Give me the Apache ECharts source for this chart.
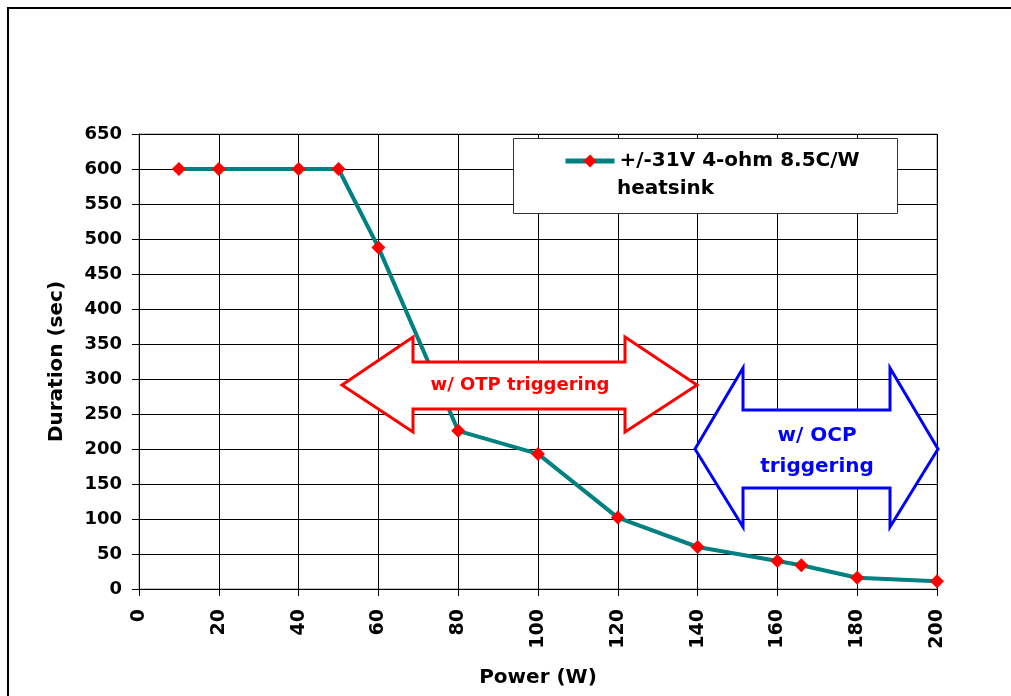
<!DOCTYPE html>
<html><head><meta charset="utf-8">
<script src="https://cdn.jsdelivr.net/npm/echarts@6/dist/echarts.min.js"></script>
<style>html,body{margin:0;padding:0;background:#fff;overflow:hidden}#c{width:1011px;height:696px}</style>
</head><body><div id="c"></div>
<script>
const powerW = [10, 20, 40, 50, 60, 80, 100, 120, 140, 160, 166, 180, 200];
const durationSec = [600, 600, 600, 600, 488, 226, 193, 102, 60, 40, 34, 16, 11];
const seriesName = '+/-31V 4-ohm 8.5C/W';
const seriesName2 = 'heatsink';
const xTicks = {min: 0, max: 200, interval: 20};
const yTicks = {min: 0, max: 650, interval: 50};

const FONT = '"DejaVu Sans", sans-serif';
const chart = echarts.init(document.getElementById('c'));
chart.setOption({
  animation: false,
  backgroundColor: '#fff',
  grid: {left: 139, right: 74, top: 134, bottom: 107, show: true, borderColor: '#888', borderWidth: 1, outerBoundsMode: 'none', containLabel: false},
  legend: {
    left: 563, top: 151, itemWidth: 49, itemHeight: 16, itemGap: 5, padding: 0, z: 10,
    lineStyle: {width: 5},
    textStyle: {fontFamily: FONT, fontWeight: 'bold', fontSize: 20, color: '#000'},
    data: [seriesName]
  },
  xAxis: {
    type: 'value', min: xTicks.min, max: xTicks.max, interval: xTicks.interval,
    name: 'Power (W)', nameLocation: 'middle', nameGap: 79,
    nameTextStyle: {fontFamily: FONT, fontWeight: 'bold', fontSize: 20, color: '#000'},
    axisLine: {show: true, onZero: false, lineStyle: {color: '#000', width: 1}},
    axisTick: {show: true, inside: false, length: 7, lineStyle: {color: '#000'}},
    axisLabel: {rotate: 90, margin: 20, fontFamily: FONT, fontWeight: 'bold', fontSize: 19, color: '#000'},
    splitLine: {show: true, lineStyle: {color: '#000', width: 1}}
  },
  yAxis: {
    type: 'value', min: yTicks.min, max: yTicks.max, interval: yTicks.interval,
    name: 'Duration (sec)', nameLocation: 'middle', nameGap: 72, nameRotate: 90,
    nameTextStyle: {fontFamily: FONT, fontWeight: 'bold', fontSize: 20, color: '#000'},
    axisLine: {show: true, onZero: false, lineStyle: {color: '#000', width: 1}},
    axisTick: {show: true, inside: false, length: 7, lineStyle: {color: '#000'}},
    axisLabel: {margin: 17, fontFamily: FONT, fontWeight: 'bold', fontSize: 18, color: '#000'},
    splitLine: {show: true, lineStyle: {color: '#000', width: 1}}
  },
  series: [{
    name: seriesName, type: 'line',
    data: powerW.map((x, i) => [x, durationSec[i]]),
    symbol: 'diamond', symbolSize: 14,
    itemStyle: {color: '#ff0000'},
    lineStyle: {color: '#008080', width: 4},
    z: 3
  }],
  graphic: [
    {type: 'polyline', z: 0, silent: true, shape: {points: [[8, 720], [8, 8], [1040, 8]]}, style: {fill: 'none', stroke: '#000', lineWidth: 2}},
    {type: 'rect', z: 8, shape: {x: 513.5, y: 138.5, width: 384, height: 75}, style: {fill: '#fff', stroke: '#333', lineWidth: 1}},
    {type: 'text', z: 11, left: 617, top: 179, style: {text: seriesName2, fontFamily: FONT, fontWeight: 'bold', fontSize: 20, fill: '#000'}},
    {type: 'polygon', z: 9, shape: {points: [[342,385],[413,337],[413,362],[625,362],[625,337],[697,385],[625,432],[625,409],[413,409],[413,432]]},
      style: {fill: '#fff', stroke: '#ff0000', lineWidth: 3}},
    {type: 'text', z: 10, x: 520, y: 385, style: {text: 'w/ OTP triggering', align: 'center', verticalAlign: 'middle', fontFamily: FONT, fontWeight: 'bold', fontSize: 18, fill: '#ff0000'}},
    {type: 'polygon', z: 9, shape: {points: [[695,449],[743,368],[743,410],[890,410],[890,368],[938,449],[890,527],[890,488],[743,488],[743,527]]},
      style: {fill: '#fff', stroke: '#0000ff', lineWidth: 3}},
    {type: 'text', z: 10, x: 817, y: 451, style: {text: 'w/ OCP\ntriggering', align: 'center', verticalAlign: 'middle', lineHeight: 31, fontFamily: FONT, fontWeight: 'bold', fontSize: 20, fill: '#0000ff'}}
  ]
});
</script></body></html>
